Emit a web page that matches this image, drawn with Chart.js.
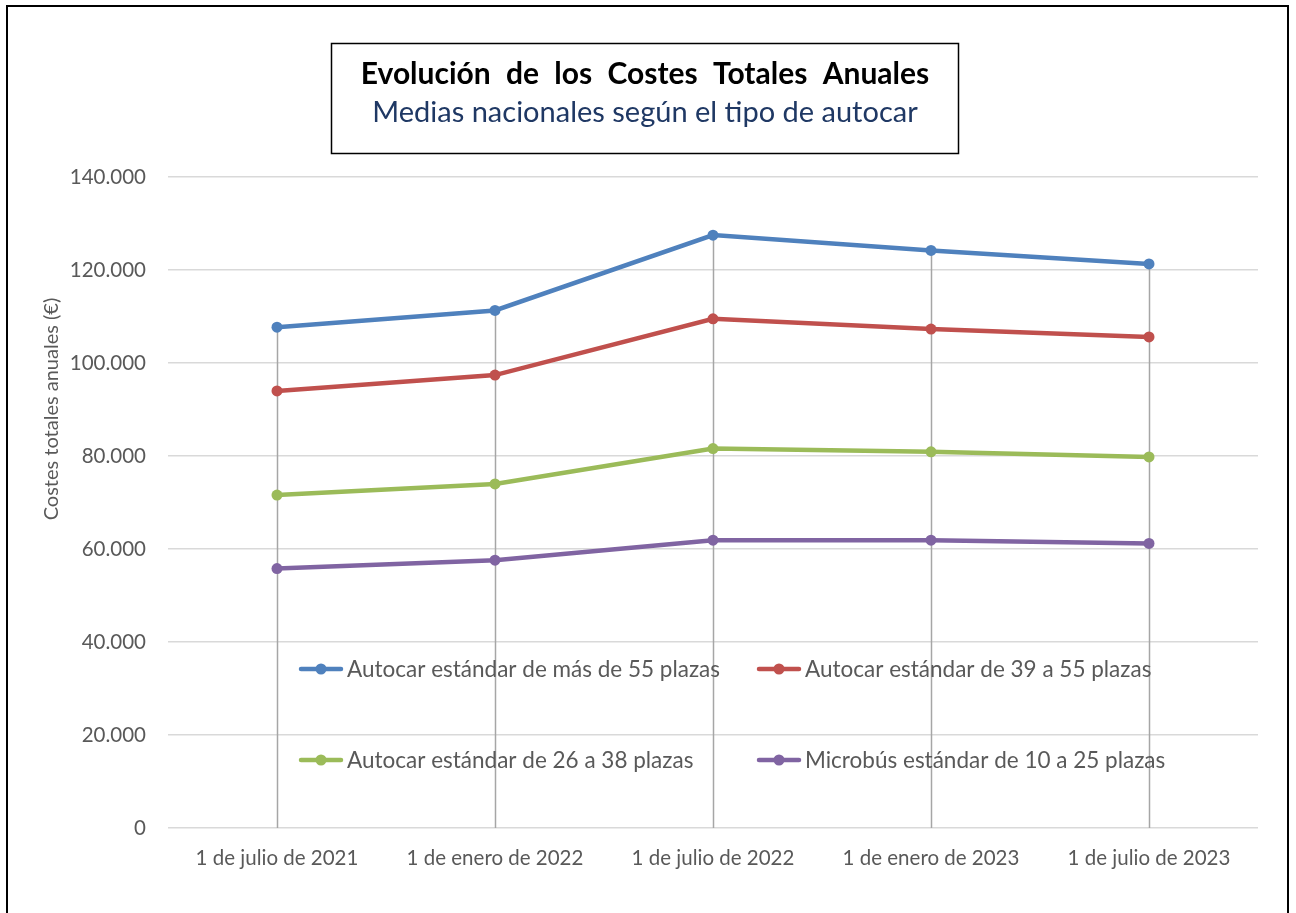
<!DOCTYPE html>
<html>
<head>
<meta charset="utf-8">
<script src="https://cdn.jsdelivr.net/npm/chart.js@4.4.1/dist/chart.umd.min.js"></script>
<style>
  html, body { margin: 0; padding: 0; background: #ffffff; }
  #wrap { width: 1296px; height: 913px; position: relative; }
  canvas { display: block; }
</style>
</head>
<body>
<div id="wrap"><canvas id="c" width="1296" height="913"></canvas></div>
<script>
// ---- Data ----
const categories = ['1 de julio de 2021', '1 de enero de 2022', '1 de julio de 2022', '1 de enero de 2023', '1 de julio de 2023'];
const seriesNames = [
  'Autocar estándar de más de 55 plazas',
  'Autocar estándar de 39 a 55 plazas',
  'Autocar estándar de 26 a 38 plazas',
  'Microbús estándar de 10 a 25 plazas'
];
const mas55 = [107700, 111300, 127500, 124200, 121300];
const de39a55 = [94000, 97400, 109500, 107300, 105600];
const de26a38 = [71600, 74000, 81600, 80900, 79800];
const micro10a25 = [55800, 57600, 61900, 61900, 61200];
const yTickValues = [0, 20000, 40000, 60000, 80000, 100000, 120000, 140000];
const chartTitle = 'Evolución de los Costes Totales Anuales';
const chartSubtitle = 'Medias nacionales según el tipo de autocar';
const yAxisTitle = 'Costes totales anuales (€)';

const seriesColors = ['#4F81BD', '#C0504D', '#9BBB59', '#8064A2'];
const FONT = 'Lato, "Open Sans", sans-serif';

function fmt(v) {
  return String(v).replace(/\B(?=(\d{3})+(?!\d))/g, '.');
}

const dropLines = {
  id: 'dropLines',
  beforeDatasetsDraw(chart) {
    const { ctx, scales: { x, y } } = chart;
    ctx.save();
    ctx.strokeStyle = '#A6A6A6';
    ctx.lineWidth = 1.5;
    categories.forEach((c, i) => {
      let maxV = -Infinity;
      chart.data.datasets.forEach(ds => { if (ds.data[i] > maxV) maxV = ds.data[i]; });
      const px = Math.round(x.getPixelForValue(i)) + 0.5;
      ctx.beginPath();
      ctx.moveTo(px, y.getPixelForValue(maxV));
      ctx.lineTo(px, y.getPixelForValue(0));
      ctx.stroke();
    });
    ctx.restore();
  }
};

const decorations = {
  id: 'decorations',
  afterDraw(chart) {
    const { ctx } = chart;
    ctx.save();
    // outer frame
    ctx.strokeStyle = '#000000';
    ctx.lineWidth = 2;
    ctx.strokeRect(7, 6, 1281, 920);
    // title box
    ctx.lineWidth = 1.5;
    ctx.strokeRect(331.5, 43.5, 627, 110);
    ctx.textAlign = 'center';
    ctx.textBaseline = 'middle';
    ctx.fillStyle = '#000000';
    ctx.font = 'bold 30px ' + FONT;
    if ('wordSpacing' in ctx) ctx.wordSpacing = '8px';
    ctx.fillText(chartTitle, 645, 74);
    if ('wordSpacing' in ctx) ctx.wordSpacing = '0px';
    ctx.fillStyle = '#1F3864';
    ctx.font = '29px ' + FONT;
    ctx.fillText(chartSubtitle, 645, 113);

    // y axis title
    ctx.save();
    ctx.translate(52, 409);
    ctx.rotate(-Math.PI / 2);
    ctx.fillStyle = '#595959';
    ctx.font = '20px ' + FONT;
    ctx.fillText(yAxisTitle, 0, 0);
    ctx.restore();

    // legend
    const cols = [299, 757];
    const rows = [669, 760];
    chart.data.datasets.forEach((ds, i) => {
      const lx = cols[i % 2];
      const ly = rows[Math.floor(i / 2)];
      ctx.strokeStyle = ds.borderColor;
      ctx.lineWidth = 4.5;
      ctx.lineCap = 'round';
      ctx.beginPath();
      ctx.moveTo(lx + 2, ly);
      ctx.lineTo(lx + 42, ly);
      ctx.stroke();
      ctx.fillStyle = ds.borderColor;
      ctx.beginPath();
      ctx.arc(lx + 22, ly, 5.5, 0, Math.PI * 2);
      ctx.fill();
      ctx.fillStyle = '#595959';
      ctx.font = '22.5px ' + FONT;
      ctx.textAlign = 'left';
      ctx.textBaseline = 'middle';
      ctx.fillText(ds.label, lx + 48, ly + 1);
    });
    ctx.restore();
  }
};

const seriesData = [mas55, de39a55, de26a38, micro10a25];

new Chart(document.getElementById('c'), {
  type: 'line',
  data: {
    labels: categories,
    datasets: seriesData.map((d, i) => ({
      label: seriesNames[i],
      data: d,
      borderColor: seriesColors[i],
      backgroundColor: seriesColors[i],
      pointBackgroundColor: seriesColors[i],
      pointBorderWidth: 0,
      pointRadius: 5.5,
      borderWidth: 4.5,
      tension: 0,
      fill: false
    }))
  },
  options: {
    responsive: false,
    animation: false,
    devicePixelRatio: 1,
    layout: { padding: { top: 177, right: 38, left: 30, bottom: 0 } },
    plugins: {
      legend: { display: false },
      title: { display: false },
      tooltip: { enabled: false }
    },
    scales: {
      x: {
        offset: true,
        grid: { display: false, drawTicks: false },
        border: { display: false },
        ticks: { color: '#595959', font: { family: FONT, size: 20.5 }, padding: 18, maxRotation: 0, autoSkip: false },
        afterFit(s) { s.height = 85; }
      },
      y: {
        min: 0,
        max: 140000,
        afterBuildTicks(s) { s.ticks = yTickValues.map(v => ({ value: v })); },
        grid: { color: '#D9D9D9', lineWidth: 1.5, drawTicks: false },
        border: { display: false },
        ticks: { color: '#595959', font: { family: FONT, size: 20.5 }, padding: 22, callback: v => fmt(v) },
        title: { display: false },
        afterFit(s) { s.width = 138; }
      }
    }
  },
  plugins: [dropLines, decorations]
});
</script>
</body>
</html>
